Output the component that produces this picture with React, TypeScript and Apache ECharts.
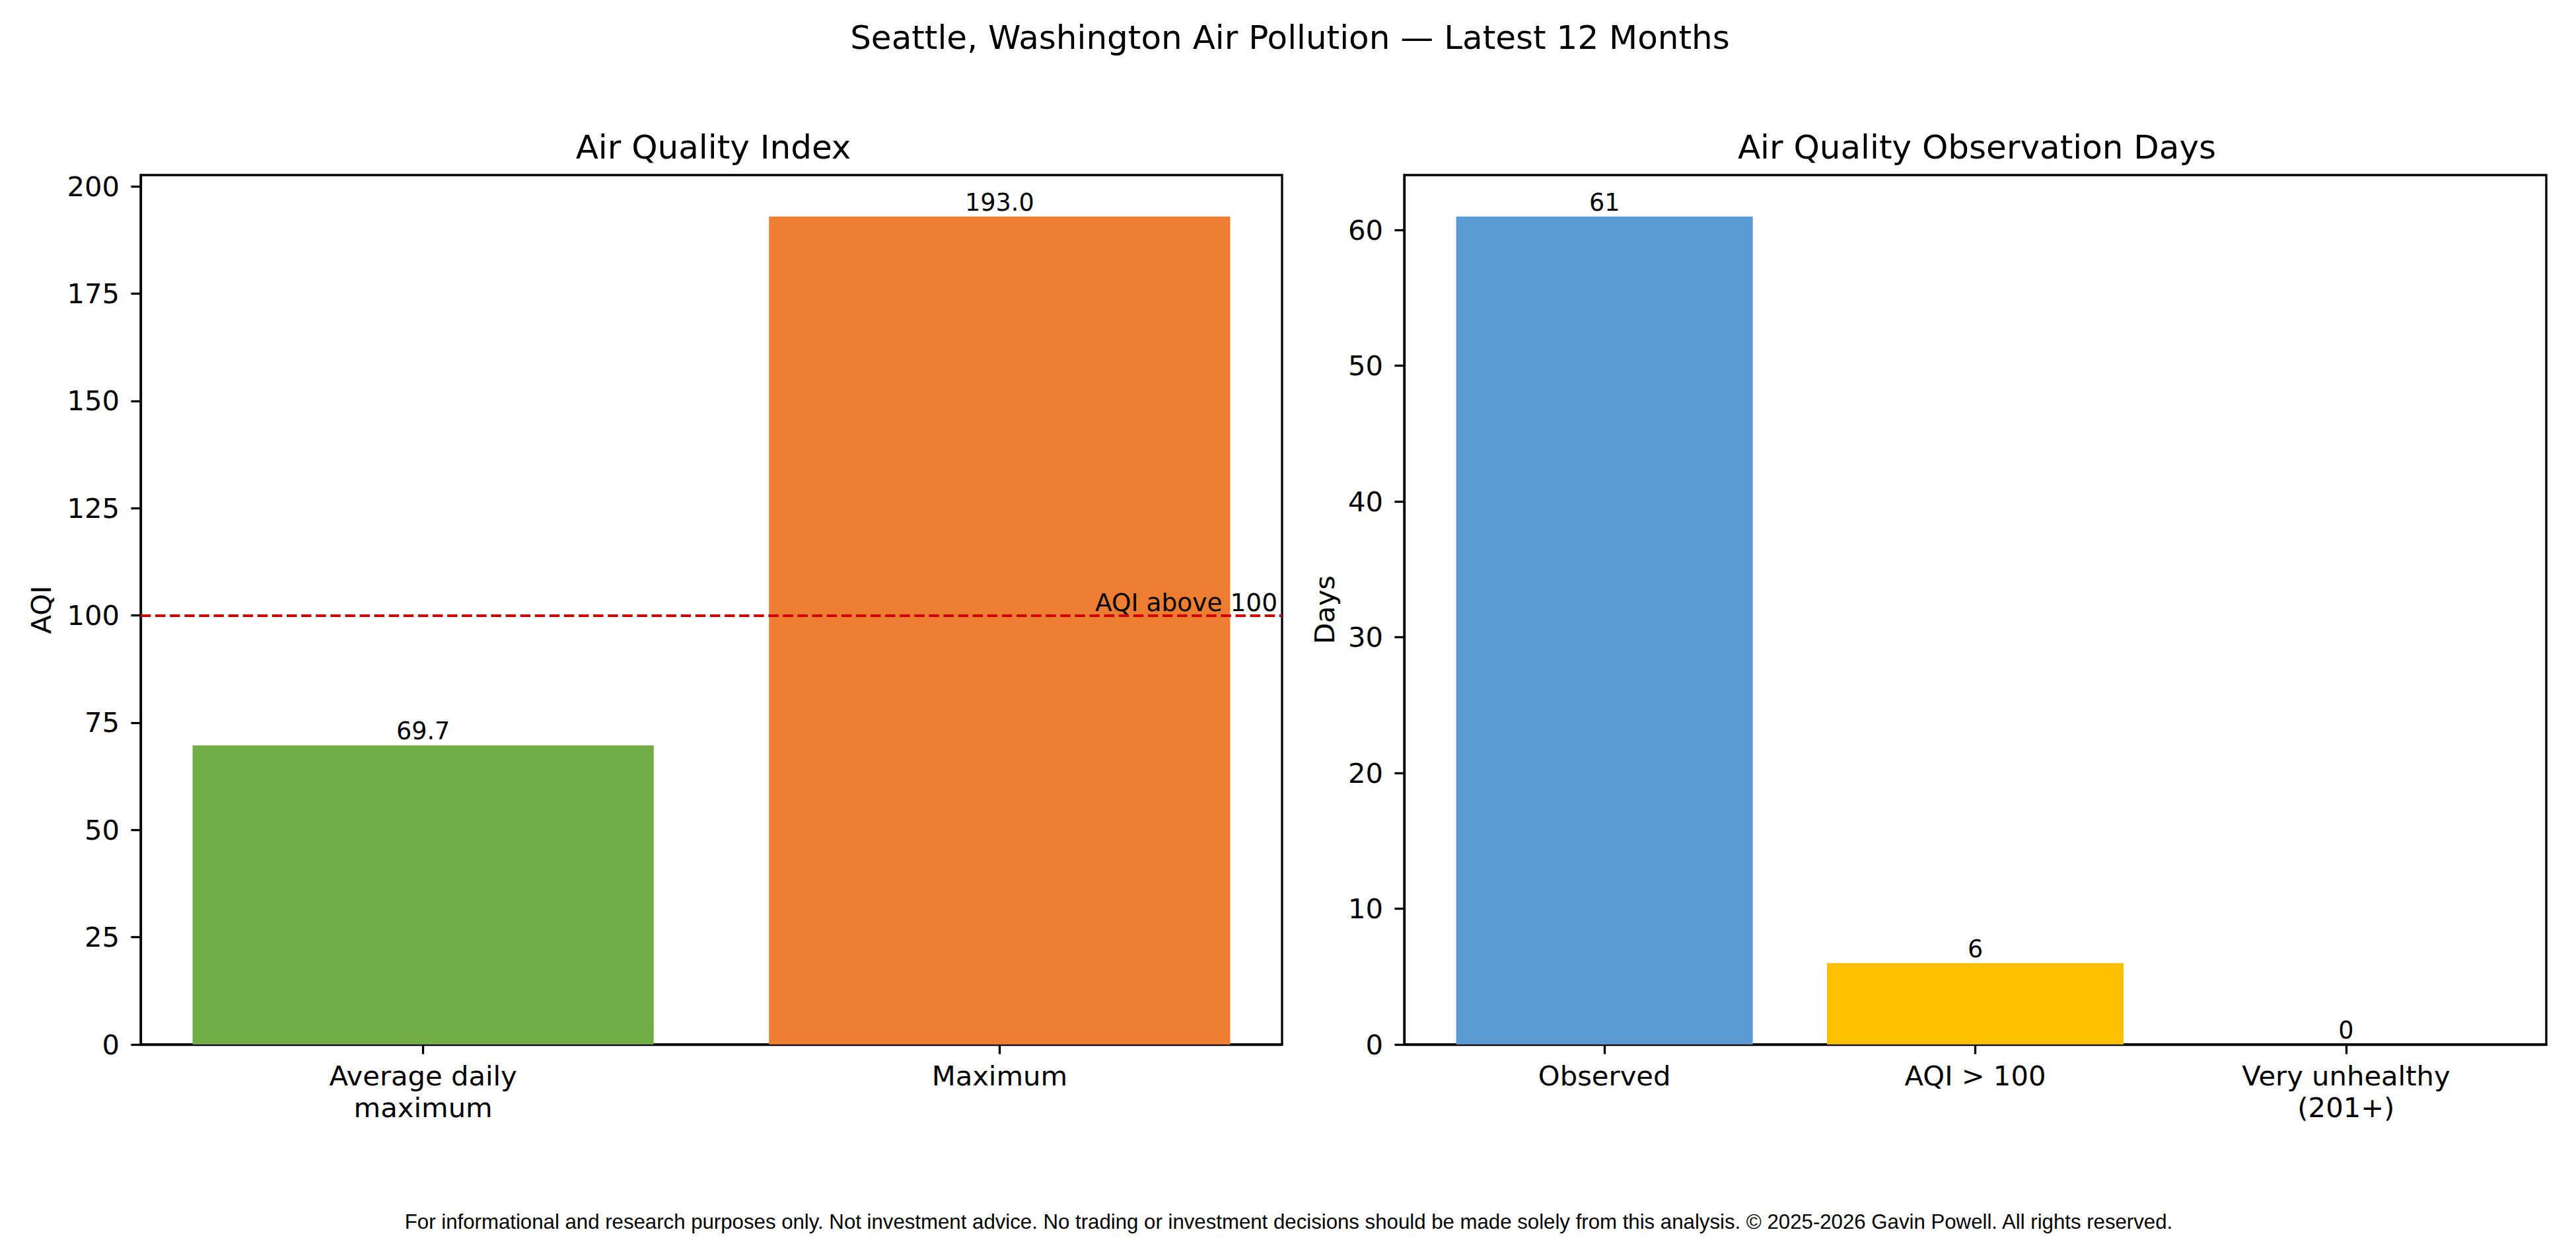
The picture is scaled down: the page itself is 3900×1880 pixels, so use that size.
import React from 'react';
import { useEffect, useRef } from 'react';
import * as echarts from 'echarts';

// 左图：空气质量指数
const aqiCategories = ['Average daily\nmaximum', 'Maximum'];
const aqiValues = [69.7, 193.0];
const aqiColors = ['#70AD47', '#ED7D31'];
const aqiTicks = [0, 25, 50, 75, 100, 125, 150, 175, 200];
const aqiThreshold = 100;

// 右图：观测天数
const dayCategories = ['Observed', 'AQI > 100', 'Very unhealthy\n(201+)'];
const dayValues = [61, 6, 0];
const dayColors = ['#5B9BD5', '#FFC000', '#A5A5A5'];
const dayTicks = [0, 10, 20, 30, 40, 50, 60];

const FONT = 'DejaVu Sans';
const FOOTER =
  'For informational and research purposes only. Not investment advice. No trading or investment decisions should be made solely from this analysis. \u00a9 2025-2026 Gavin Powell. All rights reserved.';

const App: React.FC = () => {
  const chartRef = useRef<HTMLDivElement>(null);

  useEffect(() => {
    if (!chartRef.current) return;
    const chart = echarts.init(chartRef.current, undefined, { renderer: 'svg' });

    const spine = { show: true, onZero: false, lineStyle: { color: '#000', width: 3.3 } };
    const tick = { show: true, length: 14.6, lineStyle: { color: '#000', width: 3.3 } };
    const tickLabel = { color: '#000', fontSize: 41.7, fontFamily: FONT };

    const yAxisBase = (name: string, max: number, ticks: number[], gridIndex: number, gap: number) => ({
      type: 'value',
      gridIndex,
      min: 0,
      max,
      name,
      nameLocation: 'middle',
      nameGap: gap,
      nameTextStyle: { color: '#000', fontSize: 41.7, fontFamily: FONT },
      splitLine: { show: false },
      axisLine: spine,
      axisTick: { ...tick, customValues: ticks },
      axisLabel: { ...tickLabel, margin: 32, customValues: ticks },
    });

    // 用数值轴模拟 matplotlib 的 5% 边距
    const xAxisBase = (cats: string[], gridIndex: number) => {
      const idx = cats.map((_, i) => i);
      const pad = (cats.length - 1 + 0.8) * 0.05 + 0.4;
      return {
        type: 'value',
        gridIndex,
        min: -pad,
        max: cats.length - 1 + pad,
        splitLine: { show: false },
        axisLine: spine,
        axisTick: { ...tick, customValues: idx },
        axisLabel: {
          ...tickLabel,
          margin: 23,
          lineHeight: 48,
          customValues: idx,
          formatter: (v: number) => cats[Math.round(v)] ?? '',
        },
      };
    };

    const barLabel = (fmt: (v: number) => string) => ({
      show: true,
      position: 'top',
      distance: 3,
      color: '#000',
      fontSize: 36.5,
      fontFamily: FONT,
      formatter: (p: any) => fmt(p.value[1]),
    });

    const option = {
      animation: false,
      backgroundColor: '#fff',
      title: [
        {
          text: 'Seattle, Washington Air Pollution \u2014 Latest 12 Months',
          left: 1948,
          top: 27,
          textAlign: 'center',
          textStyle: { color: '#000', fontSize: 50, fontWeight: 'normal', fontFamily: FONT },
        },
        {
          text: 'Air Quality Index',
          left: 1075,
          top: 193,
          textAlign: 'center',
          textStyle: { color: '#000', fontSize: 50, fontWeight: 'normal', fontFamily: FONT },
        },
        {
          text: 'Air Quality Observation Days',
          left: 2988,
          top: 193,
          textAlign: 'center',
          textStyle: { color: '#000', fontSize: 50, fontWeight: 'normal', fontFamily: FONT },
        },
        {
          text: FOOTER,
          left: 1946,
          top: 1829,
          textAlign: 'center',
          textStyle: { color: '#000', fontSize: 31.2, fontWeight: 'normal', fontFamily: 'Liberation Sans' },
        },
      ],
      grid: [
        { left: 213, top: 265, width: 1728, height: 1316, show: true, borderColor: '#000', borderWidth: 3.3 },
        { left: 2126, top: 265, width: 1729, height: 1316, show: true, borderColor: '#000', borderWidth: 3.3 },
      ],
      xAxis: [xAxisBase(aqiCategories, 0), xAxisBase(dayCategories, 1)],
      yAxis: [
        yAxisBase('AQI', Math.max(...aqiValues) * 1.05, aqiTicks, 0, 130),
        yAxisBase('Days', Math.max(...dayValues) * 1.05, dayTicks, 1, 100),
      ],
      series: [
        {
          type: 'bar',
          xAxisIndex: 0,
          yAxisIndex: 0,
          barWidth: '80%',
          data: aqiValues.map((v, i) => ({ value: [i, v], itemStyle: { color: aqiColors[i] } })),
          label: barLabel((v) => v.toFixed(1)),
          markLine: {
            silent: true,
            symbol: 'none',
            data: [{ yAxis: aqiThreshold }],
            lineStyle: { color: '#cc0000', width: 4.17, type: [15.4, 6.7] },
            label: {
              show: true,
              position: 'insideEndTop',
              formatter: 'AQI above 100',
              color: '#000',
              fontSize: 37.5,
              fontFamily: FONT,
              distance: [7, 1],
            },
          },
        },
        {
          type: 'bar',
          xAxisIndex: 1,
          yAxisIndex: 1,
          barWidth: '80%',
          data: dayValues.map((v, i) => ({ value: [i, v], itemStyle: { color: dayColors[i] } })),
          label: barLabel((v) => String(v)),
        },
      ],
    };

    chart.setOption(option as any);

    return () => {
      chart.dispose();
    };
  }, []);

  return (
    <div
      ref={chartRef}
      style={{ position: 'fixed', left: 0, top: 0, width: '3900px', height: '1880px', background: '#fff' }}
    ></div>
  );
};

export default App;
